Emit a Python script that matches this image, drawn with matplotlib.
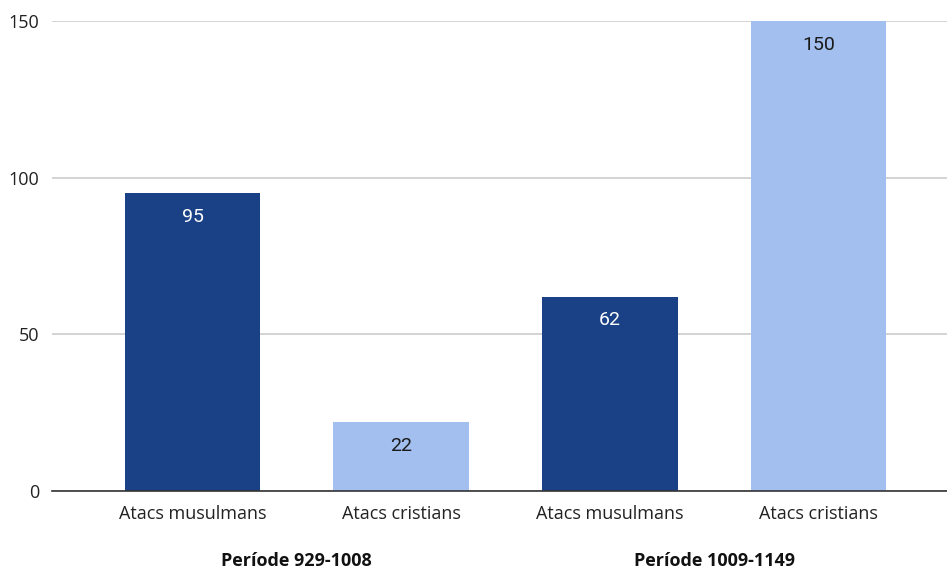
import matplotlib.pyplot as plt
from matplotlib.transforms import blended_transform_factory

# data
categories = ['Atacs musulmans', 'Atacs cristians', 'Atacs musulmans', 'Atacs cristians']
values = [95, 22, 62, 150]
groups = ['Període 929-1008', 'Període 1009-1149']
colors = ['#1a4185', '#a3bfef', '#1a4185', '#a3bfef']
label_colors = ['white', '#1a1a1a', 'white', '#1a1a1a']

W, H = 947, 569
fig = plt.figure(figsize=(W / 100, H / 100), dpi=100)
ax = fig.add_axes([52 / W, (H - 491) / H, (W - 52) / W, (491 - 21) / H])

x = list(range(len(values)))
bars = ax.bar(x, values, width=0.65, color=colors, zorder=3)

# value labels inside the bars
for b, v, c in zip(bars, values, label_colors):
    ax.text(b.get_x() + b.get_width() / 2, v - 7.5, str(v), ha='center', va='center',
            fontsize=14, color=c, family='Roboto', zorder=4)

ax.set_ylim(0, 150)
ax.set_xlim(-0.673, 3.615)
ax.set_yticks([0, 50, 100, 150])
ax.grid(axis='y', color='#cccccc', linewidth=1.2, zorder=0)
ax.set_xticks(x)
ax.set_xticklabels(categories, fontsize=13, family='Open Sans', color='#222222')
ax.tick_params(axis='x', length=0, pad=10)
ax.tick_params(axis='y', length=0, pad=9, labelsize=13, labelcolor='#222222')
for lab in ax.get_yticklabels():
    lab.set_family('Open Sans')

for s in ['top', 'right', 'left']:
    ax.spines[s].set_visible(False)
ax.spines['bottom'].set_color('#333333')
ax.spines['bottom'].set_linewidth(1.2)
ax.spines['bottom'].set_zorder(5)

trans = blended_transform_factory(ax.transData, fig.transFigure)
for i, g in enumerate(groups):
    ax.text(2 * i + 0.5, (H - 561) / H, g, transform=trans, ha='center', va='center',
            fontsize=13, fontweight='bold', family='Open Sans', color='#111111')

fig.savefig('out.png', dpi=100)
